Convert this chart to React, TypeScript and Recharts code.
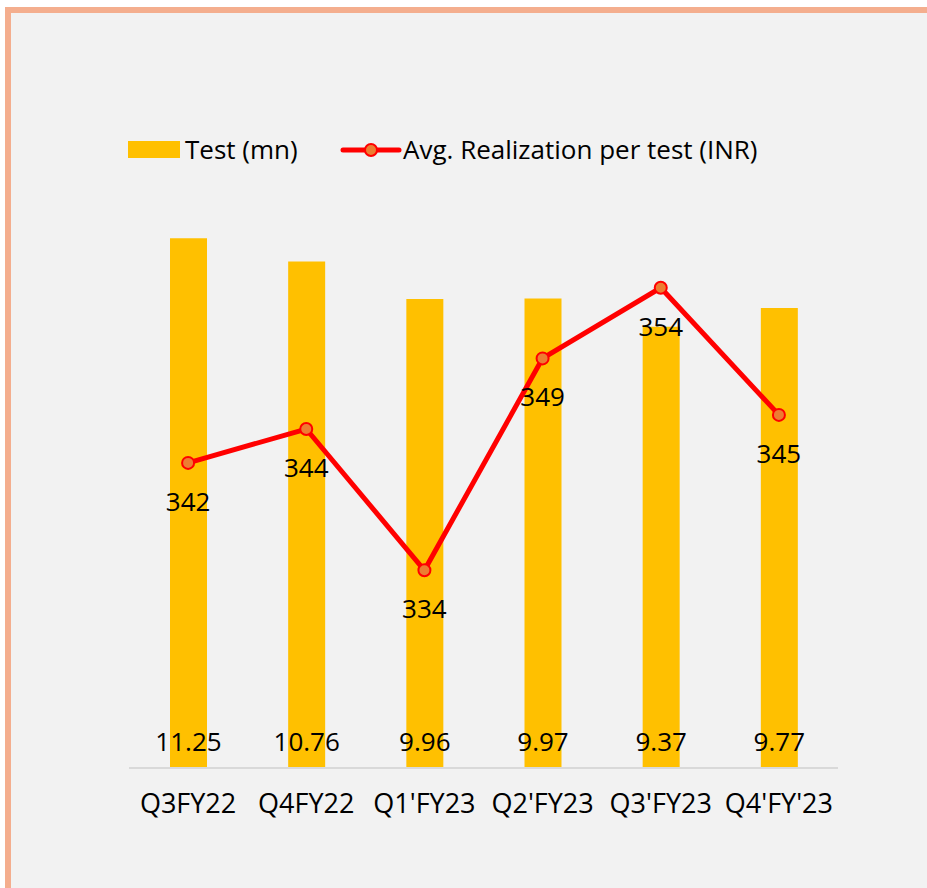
import { ComposedChart, Bar, Line, XAxis, YAxis, LabelList } from "recharts"

const quarters = ["Q3FY22", "Q4FY22", "Q1'FY23", "Q2'FY23", "Q3'FY23", "Q4'FY'23"]
const tests = [11.25, 10.76, 9.96, 9.97, 9.37, 9.77]
const realization = [341.6, 344, 334, 349, 354, 345]

const BAR_COLOR = "#FFC000"
const LINE_COLOR = "#FF0000"
const DOT_COLOR = "#ED7D31"
const FONT = "'Open Sans', sans-serif"
const FS = 26

const data = quarters.map((q, i) => ({ name: q, tests: tests[i], real: realization[i] }))

function BarValue(props: any) {
  const { x, y, width, height, value } = props
  return (
    <text x={x + width / 2} y={y + height - 27} textAnchor="middle" dominantBaseline="central" fontSize={FS} fill="#000" fontFamily={FONT}>
      {value}
    </text>
  )
}

function LineValue(props: any) {
  const { x, y, value } = props
  return (
    <text x={x} y={y + 38} textAnchor="middle" dominantBaseline="central" fontSize={FS} fill="#000" fontFamily={FONT}>
      {Math.round(value)}
    </text>
  )
}

export default function App() {
  return (
    <div style={{ position: "absolute", left: 0, top: 0, width: 927, height: 888, background: "#fff", overflow: "hidden", fontFamily: FONT }}>
      <div
        style={{
          position: "absolute",
          left: 5,
          top: 7,
          right: 0,
          bottom: 0,
          background: "#F2F2F2",
          borderLeft: "6px solid #F4AE8E",
          borderTop: "6px solid #F4AE8E",
        }}
      />
      {/* legend */}
      <div style={{ position: "absolute", left: 128, top: 141, width: 52, height: 17, background: BAR_COLOR }} />
      <div style={{ position: "absolute", left: 185, top: 131, fontSize: FS, lineHeight: "36px", color: "#000" }}>Test (mn)</div>
      <svg style={{ position: "absolute", left: 340, top: 140 }} width={62} height={20}>
        <line x1={3} y1={10} x2={59} y2={10} stroke={LINE_COLOR} strokeWidth={5} strokeLinecap="round" />
        <circle cx={31} cy={10} r={6} fill={DOT_COLOR} stroke={LINE_COLOR} strokeWidth={2} />
      </svg>
      <div style={{ position: "absolute", left: 403, top: 131, fontSize: FS, lineHeight: "36px", color: "#000" }}>
        Avg. Realization per test (INR)
      </div>
      <div style={{ position: "absolute", left: 0, top: 0 }}>
        <ComposedChart width={927} height={888} data={data} margin={{ top: 203, right: 89, left: 129, bottom: 90 }}>
          <XAxis
            dataKey="name"
            height={30}
            axisLine={{ stroke: "#D9D9D9", strokeWidth: 2 }}
            tickLine={false}
            tick={{ fontSize: FS + 1, fill: "#000", fontFamily: FONT }}
            tickMargin={20}
            interval={0}
          />
          <YAxis yAxisId="left" hide domain={[0, 12]} />
          <YAxis yAxisId="right" hide orientation="right" domain={[320, 360]} />
          <Bar yAxisId="left" dataKey="tests" fill={BAR_COLOR} barSize={37} isAnimationActive={false}>
            <LabelList dataKey="tests" content={BarValue} />
          </Bar>
          <Line
            yAxisId="right"
            dataKey="real"
            stroke={LINE_COLOR}
            strokeWidth={5}
            dot={{ r: 6, fill: DOT_COLOR, stroke: LINE_COLOR, strokeWidth: 2 }}
            isAnimationActive={false}
          >
            <LabelList dataKey="real" content={LineValue} />
          </Line>
        </ComposedChart>
      </div>
    </div>
  )
}
